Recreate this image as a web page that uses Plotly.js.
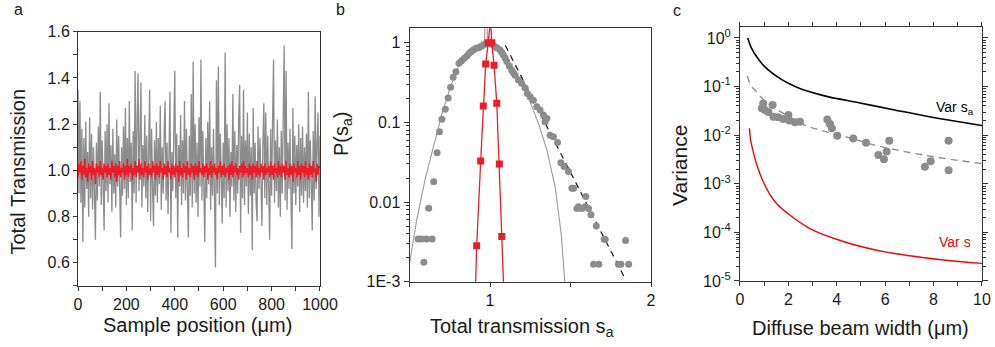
<!DOCTYPE html>
<html><head><meta charset="utf-8">
<script src="https://cdn.plot.ly/plotly-3.0.1.min.js"></script>
<style>html,body{margin:0;padding:0;background:#fff}#chart{width:995px;height:347px}</style>
</head><body><div id="chart"></div>
<script>
// ---------- Panel a: total transmission vs sample position (4 um sampling) ----------
const sampleStepUm = 4;
const grayTransmission = [
1.35,0.90,1.30,0.86,1.18,0.69,1.14,0.84,1.21,0.92,
1.08,0.80,1.23,0.88,1.16,0.83,1.10,0.90,0.70,1.12,
0.87,1.19,0.93,1.34,0.85,1.13,0.89,0.74,1.17,0.91,
1.20,0.86,1.29,0.94,1.11,0.82,1.18,0.90,1.07,0.84,
1.22,0.93,1.15,0.87,0.71,1.10,0.89,1.19,0.92,1.27,
0.85,1.14,0.88,1.30,0.95,1.12,0.74,1.17,0.90,1.43,
0.86,1.20,1.42,0.91,1.16,1.38,0.84,1.11,0.93,1.24,
0.88,1.15,0.82,1.09,1.35,0.78,1.18,0.92,0.76,1.13,
0.89,1.21,0.86,1.14,0.94,1.28,0.83,1.10,0.90,1.17,
1.30,0.87,1.12,0.81,1.19,1.34,0.73,1.08,0.91,1.22,
1.43,0.88,1.16,0.71,1.11,0.93,1.24,0.85,1.13,0.90,
1.30,0.87,1.18,0.92,0.71,1.15,0.89,1.33,0.84,1.47,
0.90,1.20,0.86,1.12,0.80,1.23,0.93,1.48,0.87,1.17,
0.91,0.69,1.14,0.88,1.21,0.94,1.30,0.83,1.10,0.89,
1.18,0.86,0.58,1.39,0.90,1.45,0.85,1.16,0.92,0.77,
1.12,0.88,1.51,0.84,1.20,0.91,1.14,0.80,1.08,0.93,
1.33,0.87,1.17,0.82,1.11,0.90,1.22,1.37,0.73,1.15,
0.88,1.35,0.85,1.13,0.93,1.25,0.81,1.16,0.89,1.10,
0.655,1.27,0.90,1.12,0.86,0.78,1.19,0.92,1.14,0.84,
0.76,1.11,1.29,0.88,1.25,0.85,1.15,0.93,0.70,1.18,
0.89,1.21,1.48,0.86,1.13,0.91,1.22,0.84,1.10,0.80,
1.17,0.90,1.20,1.54,0.87,1.43,0.83,1.12,0.92,1.18,
0.88,0.66,1.27,0.90,1.15,0.85,1.11,0.93,1.20,0.82,
1.14,0.89,1.19,0.86,1.10,0.91,1.16,0.84,1.34,0.88,
1.13,0.90,0.74,1.17,0.87,1.32,0.92,1.12,1.25,0.80,
1.15];
const redTransmission = [
0.97,1.03,0.99,1.04,0.96,1.02,0.98,1.05,0.97,1.01,
0.95,1.03,0.99,1.02,0.96,1.04,0.98,1.01,0.94,1.03,
0.99,1.02,0.97,1.04,0.98,1.01,0.96,1.03,0.99,1.02,
0.97,1.03,0.98,1.01,0.96,1.04,0.99,1.02,0.97,1.03,
0.95,1.02,0.98,1.04,0.97,1.01,0.99,1.03,0.96,1.02,
0.98,1.05,0.97,1.02,0.99,1.03,0.96,1.01,0.98,1.04,
0.97,1.02,0.99,1.05,0.96,1.03,0.98,1.01,0.97,1.04,
0.99,1.02,0.96,1.03,0.98,1.01,0.97,1.04,0.99,1.02,
0.96,1.03,0.98,1.02,0.97,1.04,0.99,1.01,0.96,1.03,
0.98,1.02,0.97,1.04,0.99,1.01,0.96,1.03,0.98,1.02,
0.97,1.03,0.99,1.02,0.95,1.04,0.98,1.01,0.97,1.03,
0.99,1.02,0.96,1.04,0.98,1.01,0.97,1.03,0.99,1.02,
0.96,1.03,0.98,1.02,0.97,1.04,0.99,1.01,0.98,1.03,
0.97,1.02,0.99,1.03,0.96,1.01,0.98,1.04,0.97,1.02,
0.99,1.03,0.98,1.01,0.96,1.02,0.99,1.04,0.97,1.02,
0.98,1.03,0.97,1.01,0.99,1.02,0.96,1.03,0.98,1.04,
0.97,1.02,0.99,1.03,0.98,1.01,0.96,1.02,0.99,1.03,
0.97,1.04,0.98,1.02,0.99,1.01,0.97,1.03,0.98,1.02,
0.96,1.03,0.99,1.02,0.97,1.04,0.98,1.01,0.97,1.03,
0.99,1.02,0.96,1.03,0.98,1.01,0.99,1.02,0.97,1.04,
0.98,1.02,0.96,1.03,0.99,1.01,0.97,1.04,0.98,1.02,
0.97,1.03,0.99,1.02,0.96,1.04,0.98,1.01,0.97,1.03,
0.98,1.02,0.95,1.03,0.99,1.01,0.97,1.04,0.98,1.02,
0.96,1.03,0.99,1.02,0.97,1.04,0.98,1.01,0.96,1.03,
0.98,1.02,0.97,1.04,0.99,1.01,0.95,1.03,0.98,1.02,
1.01];
const samplePosition = grayTransmission.map((_, i) => i * sampleStepUm);

// ---------- Panel b: distributions P(s_a) ----------
const distSaX = [0.553,0.574,0.605,0.640,0.589,0.619,0.650,0.671,0.686,0.701,0.722,0.740,0.755,0.771,0.788,0.807,0.824,0.840,0.857,0.871,0.882,0.896,0.913,0.930,0.946,0.959,0.971,0.985,1.000,1.016,
1.031,1.045,1.062,1.073,1.083,1.094,1.104,1.120,1.135,1.145,1.156,1.176,1.197,1.218,1.232,1.249,1.269,1.291,1.311,1.332,1.342,1.353,1.373,1.394,1.419,1.440,1.460,1.487,1.508,1.519,1.540,1.550,1.571,1.591,1.612,1.595,1.627,1.660,1.709,1.715,1.842,1.643,1.676,1.798,1.813,1.861];
const distSaY = [0.00343,0.00343,0.00343,0.00343,0.00175,0.00834,0.018,0.0416,0.0764,0.109,0.146,0.202,0.275,0.367,0.432,0.551,0.594,0.637,0.681,0.736,0.771,0.809,0.849,0.865,0.901,0.936,0.964,0.99,1.0,0.95,
0.89,0.86,0.81,0.75,0.70,0.64,0.58,0.51,0.45,0.42,0.39,0.34,0.31,0.27,0.23,0.21,0.19,0.157,0.143,0.124,0.102,0.112,0.069,0.066,0.056,0.031,0.028,0.0242,0.0149,0.0149,0.0083,0.0087,0.0083,0.0087,0.0083,0.0117,0.0069,0.0050,0.0034,0.0034,0.0033,0.00165,0.00165,0.00165,0.00165,0.00165];
const distSX = [0.917,0.942,0.958,0.973,0.989,1.011,1.025,1.042,1.058,1.073];
const distSY = [0.00283,0.0327,0.160,0.54,1.0,1.0,0.52,0.173,0.030,0.0037];
const fitSaX = [0.498,0.544,0.596,0.647,0.699,0.751,0.803,0.860,0.920,0.955,0.966,0.969,0.981,0.984,1.020,1.080,1.135,1.228,1.301,1.353,1.404,1.442,1.462,1.470];
const fitSaY = [0.0016,0.0059,0.0189,0.049,0.124,0.267,0.50,0.74,0.92,0.98,1.0,2.0,2.0,1.0,0.93,0.76,0.50,0.23,0.097,0.045,0.0156,0.0040,0.0010,0.0007];
const fitSX = [0.910,0.917,0.942,0.958,0.973,0.989,0.997,1.003,1.011,1.025,1.042,1.058,1.073,1.084];
const fitSY = [0.0009,0.00283,0.0327,0.160,0.54,1.0,2.0,2.0,1.0,0.52,0.173,0.030,0.0037,0.0009];
const tailX = [1.095,1.840];
const tailY = [0.92,0.00108];

// ---------- Panel c: variance vs diffuse beam width ----------
const varSaX = [0.32,0.48,0.69,0.90,1.17,1.58,2.0,2.55,3.58,4.96,6.34,7.71,10];
const varSaY = [1.0,0.61,0.41,0.30,0.22,0.155,0.117,0.088,0.063,0.046,0.0335,0.0245,0.0158];
const varSX = [0.39,0.44,0.55,0.70,0.96,1.24,1.52,2.0,2.89,4.27,5.65,7.02,8.4,10];
const varSY = [0.0139,0.0080,0.0045,0.0024,0.0011,6.0e-4,3.9e-4,2.4e-4,1.2e-4,6.5e-5,4.3e-5,3.3e-5,2.7e-5,2.3e-5];
const fitVarX = [0.3,0.48,0.69,0.9,1.2,1.8,2.62,3.5,4.55,5.5,6.61,7.6,8.68,10];
const fitVarY = [0.165,0.10,0.078,0.058,0.043,0.028,0.0165,0.012,0.0088,0.0064,0.0048,0.0039,0.0032,0.0026];
const measVarX = [0.90,0.96,1.03,1.17,1.35,1.38,1.58,1.79,2.0,2.04,2.27,2.48,3.61,3.72,3.8,4.02,4.68,5.21,5.72,5.95,6.06,6.17,7.64,7.88,8.62,8.62];
const measVarY = [0.036,0.045,0.033,0.030,0.042,0.024,0.0233,0.0215,0.026,0.020,0.0184,0.019,0.021,0.017,0.0139,0.0098,0.0086,0.0070,0.0039,0.0032,0.0046,0.0077,0.00225,0.0029,0.0077,0.0019];

// tick labels
const aYTicks = [0.6,0.8,1.0,1.2,1.4,1.6];
const aXTicks = [0,200,400,600,800,1000];
const bXTicks = [1,2];
const bYTicks = [0.001,0.01,0.1,1];
const bYTickText = ['1E-3','0.01','0.1','1'];
const cXTicks = [0,2,4,6,8,10];
const cYTicks = [1e-5,1e-4,1e-3,1e-2,1e-1,1];
const cYTickText = ['10<sup>-5</sup>','10<sup>-4</sup>','10<sup>-3</sup>','10<sup>-2</sup>','10<sup>-1</sup>','10<sup>0</sup>'];

const F = 'Liberation Sans, Arial, sans-serif';
const GRAY = '#8c8c8c';
const RED = '#ee1c25';

function logMinor(lo, hi){ const v=[]; for(let e=lo;e<hi;e++){ for(let d=2;d<=9;d++) v.push(d*Math.pow(10,e)); } return v; }

const traces = [
  {x: samplePosition, y: grayTransmission, type:'scatter', mode:'lines', line:{color:GRAY, width:1.3}, xaxis:'x', yaxis:'y', showlegend:false},
  {x: samplePosition, y: redTransmission, type:'scatter', mode:'lines', line:{color:RED, width:1.4}, xaxis:'x', yaxis:'y', showlegend:false},

  {x: fitSaX, y: fitSaY, type:'scatter', mode:'lines', line:{color:'#999', width:1.1}, xaxis:'x2', yaxis:'y2', showlegend:false},
  {x: tailX, y: tailY, type:'scatter', mode:'lines', line:{color:'#111', width:1.2, dash:'6px,5px'}, xaxis:'x2', yaxis:'y2', showlegend:false},
  {x: distSaX, y: distSaY, type:'scatter', mode:'markers', marker:{color:GRAY, size:7}, xaxis:'x2', yaxis:'y2', showlegend:false},
  {x: fitSX, y: fitSY, type:'scatter', mode:'lines', line:{color:RED, width:1.3}, xaxis:'x2', yaxis:'y2', showlegend:false},
  {x: distSX, y: distSY, type:'scatter', mode:'markers', marker:{color:RED, size:7, symbol:'square'}, xaxis:'x2', yaxis:'y2', showlegend:false},

  {x: varSaX, y: varSaY, type:'scatter', mode:'lines', line:{color:'#000', width:1.6, shape:'spline'}, xaxis:'x3', yaxis:'y3', showlegend:false},
  {x: varSX, y: varSY, type:'scatter', mode:'lines', line:{color:'#ff0000', width:1.4, shape:'spline'}, xaxis:'x3', yaxis:'y3', showlegend:false},
  {x: fitVarX, y: fitVarY, type:'scatter', mode:'lines', line:{color:'#8c8c8c', width:1.4, dash:'7px,5px', shape:'spline'}, xaxis:'x3', yaxis:'y3', showlegend:false},
  {x: measVarX, y: measVarY, type:'scatter', mode:'markers', marker:{color:GRAY, size:8}, xaxis:'x3', yaxis:'y3', showlegend:false}
];

const ax = () => ({showline:true, linecolor:'#333', linewidth:1, mirror:true, ticks:'outside', ticklen:4, tickwidth:1, tickcolor:'#333', showgrid:false, zeroline:false, tickfont:{family:F, size:16, color:'#1a1a1a'}});

function note(text, x, y, size, extra){ return Object.assign({text, x, y, xref:'paper', yref:'paper', xanchor:'center', yanchor:'middle', showarrow:false, font:{family:F, size, color:'#1a1a1a'}}, extra||{}); }

const layout = {
  width:995, height:347, margin:{l:0,r:0,t:0,b:0},
  paper_bgcolor:'#fff', plot_bgcolor:'#fff', showlegend:false,
  font:{family:F, color:'#1a1a1a'},
  xaxis: Object.assign(ax(), {domain:[0.0784,0.3216], anchor:'y', range:[0,1000], tickmode:'array', tickvals:aXTicks, ticktext:aXTicks.map(String),
    minor:{tickmode:'array', tickvals:[100,300,500,700,900], ticks:'outside', ticklen:4, tickcolor:'#333'}}),
  yaxis: Object.assign(ax(), {domain:[0.1758,0.9086], anchor:'x', range:[0.5,1.6], tickmode:'array', tickvals:aYTicks, ticktext:aYTicks.map(v=>v.toFixed(1)),
    minor:{tickmode:'array', tickvals:[0.5,0.7,0.9,1.1,1.3,1.5], ticks:'outside', ticklen:4, tickcolor:'#333'}}),
  xaxis2: Object.assign(ax(), {domain:[0.4116,0.6543], anchor:'y2', range:[0.5,2], tickmode:'array', tickvals:bXTicks, ticktext:bXTicks.map(String),
    minor:{tickmode:'array', tickvals:[0.5,1.5], ticks:'outside', ticklen:4, tickcolor:'#333'}}),
  yaxis2: Object.assign(ax(), {domain:[0.1882,0.9184], anchor:'x2', type:'log', range:[-3,0.18], tickmode:'array', tickvals:bYTicks, ticktext:bYTickText, ticklen:5,
    minor:{tickmode:'array', tickvals:logMinor(-3,1), ticks:'outside', ticklen:3, tickcolor:'#333'}}),
  xaxis3: Object.assign(ax(), {domain:[0.7437,0.9869], anchor:'y3', range:[0,10], mirror:'ticks', tickmode:'array', tickvals:cXTicks, ticktext:cXTicks.map(String),
    minor:{tickmode:'array', tickvals:[1,3,5,7,9], ticks:'outside', ticklen:4, tickcolor:'#333'}}),
  yaxis3: Object.assign(ax(), {domain:[0.1902,0.9213], anchor:'x3', type:'log', range:[-5,0.22], mirror:'ticks', tickmode:'array', tickvals:cYTicks, ticktext:cYTickText, ticklen:5,
    minor:{tickmode:'array', tickvals:logMinor(-5,1), ticks:'outside', ticklen:3, tickcolor:'#333'}}),
  annotations: [
    note('a', 0.0181, 0.974, 16),
    note('b', 0.3427, 0.974, 16),
    note('c', 0.6804, 0.971, 16),
    note('Total Transmission', 0.0176, 0.5043, 20, {textangle:-90}),
    note('Sample position (\u03bcm)', 0.1985, 0.064, 20),
    note('P(s<sub>a</sub>)', 0.3437, 0.6138, 20, {textangle:-90}),
    note('Total transmission s<sub>a</sub>', 0.5246, 0.056, 20),
    note('Variance', 0.6834, 0.5245, 21, {textangle:-90}),
    note('Diffuse beam width (\u03bcm)', 0.8653, 0.055, 20),
    note('Var s<sub>a</sub>', 0.960, 0.689, 14, {font:{family:F, size:14, color:'#000'}}),
    note('Var s', 0.960, 0.3026, 14, {font:{family:F, size:14, color:'#ff0000'}})
  ]
};

Plotly.newPlot('chart', traces, layout, {staticPlot:true, displayModeBar:false});
</script>
</body></html>
